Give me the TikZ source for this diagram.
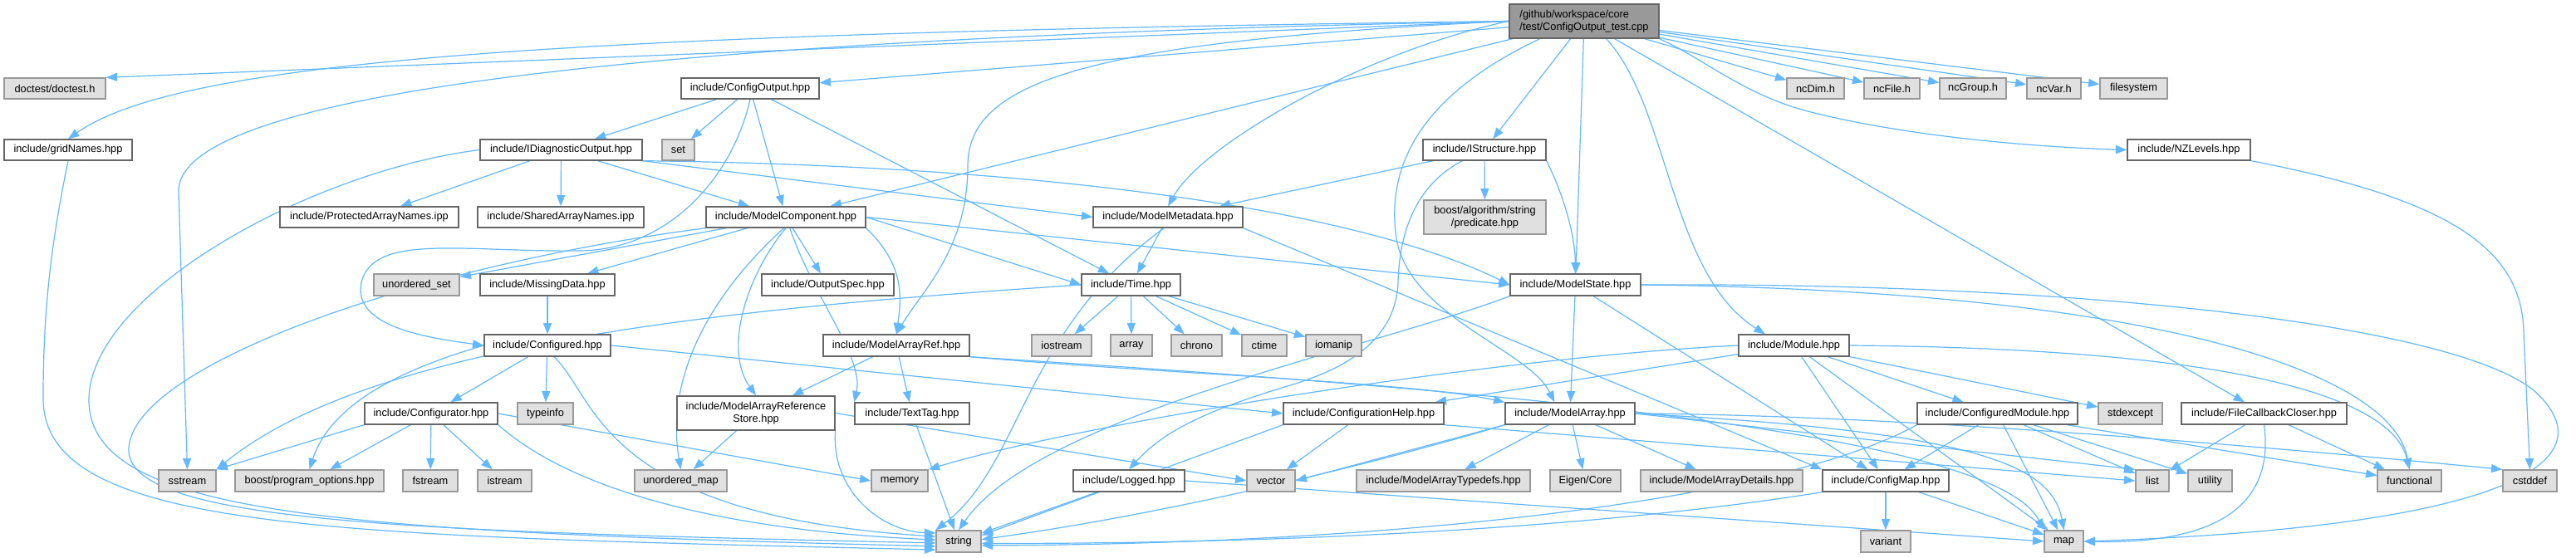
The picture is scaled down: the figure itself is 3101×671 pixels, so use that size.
\documentclass[tikz,border=0pt]{standalone}
\usepackage{fontspec}
\setmainfont{Liberation Sans}
\usetikzlibrary{arrows.meta}
\pgfdeclarelayer{bg}
\pgfsetlayers{bg,main}
\definecolor{edgec}{HTML}{63B8FF}
\definecolor{cdark}{HTML}{666666}
\definecolor{cmid}{HTML}{999999}
\definecolor{clight}{HTML}{E0E0E0}
\newcommand\nd[6]{\node[#1,minimum width={#4*0.75pt},minimum height={#5*0.75pt}] (#2) at (#3) {#6};}
\begin{document}
\begin{tikzpicture}[x=0.75pt,y=-0.75pt,
  base/.style={draw,rectangle,inner sep=0pt,line width=1pt,font=\fontsize{9.6}{11.6}\selectfont},
  wbox/.style={base,draw=cdark,fill=white,align=center},
  gbox/.style={base,draw=cmid,fill=clight,align=center},
  rbox/.style={base,draw=cdark,fill=cmid,align=left},
  edge/.style={draw=edgec,line width=0.9pt,-{Triangle[length=10pt,width=7.5pt]}}]
\useasboundingbox (0,0) rectangle (3101,671);
\begin{pgfonlayer}{bg}
\fill[white] (0,0) rectangle (3101,671);
\end{pgfonlayer}
% row 1
\nd{rbox}{root}{1907,25.5}{180}{41}{/github/workspace/core\\/test/ConfigOutput\_test.cpp}
% row 2
\nd{gbox}{doctest}{66,106.5}{122}{25}{doctest/doctest.h}
\nd{wbox}{co}{903,106.5}{166}{25}{include/ConfigOutput.hpp}
\nd{gbox}{ncdim}{2185.5,106.5}{69}{25}{ncDim.h}
\nd{gbox}{ncfile}{2277.5,106.5}{67}{25}{ncFile.h}
\nd{gbox}{ncgroup}{2375,106.5}{80}{25}{ncGroup.h}
\nd{gbox}{ncvar}{2472.5,106.5}{65}{25}{ncVar.h}
\nd{gbox}{fs}{2568.5,106.5}{81}{25}{filesystem}
% row 3
\nd{wbox}{grid}{82,180.5}{154}{25}{include/gridNames.hpp}
\nd{wbox}{idiag}{675.5,180.5}{195}{25}{include/IDiagnosticOutput.hpp}
\nd{gbox}{set}{816.5,180.5}{39}{25}{set}
\nd{wbox}{istr}{1787,180.5}{148}{25}{include/IStructure.hpp}
\nd{wbox}{nzl}{2635,180.5}{148}{25}{include/NZLevels.hpp}
% row 4
\nd{wbox}{pan}{444.5,261.5}{215}{25}{include/ProtectedArrayNames.ipp}
\nd{wbox}{san}{675,261.5}{200}{25}{include/SharedArrayNames.ipp}
\nd{wbox}{mc}{946,261.5}{192}{25}{include/ModelComponent.hpp}
\nd{wbox}{mm}{1406,261.5}{180}{25}{include/ModelMetadata.hpp}
\nd{gbox}{pred}{1787.5,261.5}{147}{41}{boost/algorithm/string\\/predicate.hpp}
% row 5
\nd{gbox}{uset}{501.5,343}{103}{26}{unordered\_set}
\nd{wbox}{mdata}{659,343}{162}{26}{include/MissingData.hpp}
\nd{wbox}{ospec}{996.5,343}{159}{26}{include/OutputSpec.hpp}
\nd{wbox}{time}{1361.5,343}{119}{26}{include/Time.hpp}
\nd{wbox}{ms}{1896.5,343}{157}{26}{include/ModelState.hpp}
% row 6
\nd{wbox}{cfgd}{659,416}{152}{26}{include/Configured.hpp}
\nd{wbox}{mar}{1079,416}{176}{26}{include/ModelArrayRef.hpp}
\nd{gbox}{iostr}{1278,416}{72}{26}{iostream}
\nd{gbox}{arr}{1362,416}{50}{26}{array}
\nd{gbox}{chrono}{1440.5,416}{61}{26}{chrono}
\nd{gbox}{ctime}{1522,416}{54}{26}{ctime}
\nd{gbox}{iomanip}{1605.5,416}{67}{26}{iomanip}
\nd{wbox}{module}{2159.5,416}{133}{26}{include/Module.hpp}
% row 7
\nd{wbox}{cfgr}{519,498}{160}{26}{include/Configurator.hpp}
\nd{gbox}{typeinfo}{656.5,498}{67}{26}{typeinfo}
\nd{wbox}{mars}{910,497.5}{190}{41}{include/ModelArrayReference\\Store.hpp}
\nd{wbox}{ttag}{1098,498}{138}{26}{include/TextTag.hpp}
\nd{wbox}{chelp}{1641.5,498}{193}{26}{include/ConfigurationHelp.hpp}
\nd{wbox}{ma}{1890,498}{156}{26}{include/ModelArray.hpp}
\nd{wbox}{cmod}{2404.5,498}{193}{26}{include/ConfiguredModule.hpp}
\nd{gbox}{stdexc}{2564.5,498}{77}{26}{stdexcept}
\nd{wbox}{fcc}{2725.5,498}{199}{26}{include/FileCallbackCloser.hpp}
% row 8
\nd{gbox}{sstream}{225.5,579}{69}{26}{sstream}
\nd{gbox}{po}{372.5,579}{179}{26}{boost/program\_options.hpp}
\nd{gbox}{fstream}{518,579}{66}{26}{fstream}
\nd{gbox}{istream}{607.5,579}{65}{26}{istream}
\nd{gbox}{umap}{819.5,579}{111}{26}{unordered\_map}
\nd{gbox}{memory}{1083,579}{68}{26}{memory}
\nd{wbox}{logged}{1359,579}{134}{26}{include/Logged.hpp}
\nd{gbox}{vector}{1530,579}{58}{26}{vector}
\nd{gbox}{matd}{1737.5,579}{209}{26}{include/ModelArrayTypedefs.hpp}
\nd{gbox}{eigen}{1908.5,579}{85}{26}{Eigen/Core}
\nd{gbox}{madet}{2072.5,579}{195}{26}{include/ModelArrayDetails.hpp}
\nd{wbox}{cmap}{2270,579}{152}{26}{include/ConfigMap.hpp}
\nd{gbox}{list}{2591,579}{40}{26}{list}
\nd{gbox}{utility}{2660.5,579}{53}{26}{utility}
\nd{gbox}{functional}{2900.5,579}{77}{26}{functional}
\nd{gbox}{cstddef}{3045.5,579}{65}{26}{cstddef}
% row 9
\nd{gbox}{string}{1154,652}{54}{26}{string}
\nd{gbox}{variant}{2270,652}{60}{26}{variant}
\nd{gbox}{map}{2484.5,652}{47}{26}{map}

\begin{pgfonlayer}{bg}
% root
\draw[edge] (root.west) -- (doctest.north east);
\draw[edge] (root.west) .. controls (700,40) and (220,70) .. (grid.north);
\draw[edge] (root) -- (co);
\draw[edge] (root.west) .. controls (800,45) and (215,110) .. (215,230) -- (sstream.north);
\draw[edge] (root) -- (mc);
\draw[edge] (root.west) .. controls (1300,50) and (1165,100) .. (1165,200) .. controls (1165,300) and (1110,350) .. (mar.north);
\draw[edge] (root.west) .. controls (1650,60) and (1450,170) .. (mm.north);
\draw[edge] (root) -- (istr);
\draw[edge] (root) -- (ms);
\draw[edge] ([xshift=-40pt]root.south) .. controls (1720,110) and (1670,190) .. (1680,280) .. controls (1690,380) and (1840,420) .. ([xshift=-14pt]ma.north);
\draw[edge] ([xshift=20pt]root.south) .. controls (2010,130) and (2010,330) .. ([xshift=-26pt]module.north);
\draw[edge] (root) -- (fcc);
\draw[edge] (root.south east) .. controls (2050,70) and (2100,115) .. (2180,135) .. controls (2300,165) and (2450,177) .. (nzl.west);
\draw[edge] (root) -- (ncdim);
\draw[edge] (root) -- (ncfile);
\draw[edge] (root) -- (ncgroup);
\draw[edge] (root) -- (ncvar);
\draw[edge] (root) -- (fs);
% ConfigOutput
\draw[edge] (co) -- (idiag);
\draw[edge] (co) -- (set);
\draw[edge] (co) -- (mc);
\draw[edge] (co) -- (time);
\draw[edge] (co.south) .. controls (880,220) and (800,300) .. (700,302) .. controls (560,304) and (450,280) .. (435,340) .. controls (425,390) and (500,405) .. (cfgd.west);
% IDiagnosticOutput
\draw[edge] (idiag) -- (pan);
\draw[edge] (idiag) -- (san);
\draw[edge] (idiag) -- (mc);
\draw[edge] (idiag.south east) -- (mm.west);
\draw[edge] (idiag.south east) .. controls (1300,200) and (1650,260) .. (ms.west);
\draw[edge] (idiag.west) .. controls (380,205) and (110,350) .. (107,480) .. controls (105,620) and (400,640) .. (string.192);
% gridNames
\draw[edge] (grid.south) .. controls (60,300) and (52,380) .. (52,480) .. controls (52,640) and (400,645) .. (string.200);
% IStructure
\draw[edge] (istr) -- (mm);
\draw[edge] (istr) -- (pred);
\draw[edge] (istr.south east) .. controls (1880,230) and (1896,280) .. (ms.north);
\draw[edge] ([xshift=-20pt]istr.south) .. controls (1710,220) and (1685,270) .. (1683,340) .. controls (1680,420) and (1600,450) .. (1550,465) .. controls (1450,495) and (1400,520) .. (logged.north);
% NZLevels
\draw[edge] (nzl.south east) .. controls (2950,240) and (3036,300) .. (3038,400) -- (cstddef.north);
% ModelComponent
\draw[edge] (mc) -- (uset);
\draw[edge] (mc) -- (mdata);
\draw[edge] (mc) -- (ospec);
\draw[edge] (mc.east) -- (time.west);
\draw[edge] (mc.east) -- (ms.west);
\draw[edge] (mc.south east) .. controls (1090,320) and (1085,360) .. (mar.north);
\draw[edge] (mc.south) .. controls (900,330) and (870,420) .. (mars.north);
\draw[edge] (mc.260) .. controls (860,350) and (800,450) .. (umap.north);
\draw[edge] (mc.290) .. controls (980,360) and (1040,430) .. (ttag.north west);
\draw[edge] (mc.south west) .. controls (500,320) and (160,440) .. (155,540) .. controls (150,630) and (500,640) .. (string.184);
% ModelMetadata
\draw[edge] (mm) -- (time);
\draw[edge] (mm.250) .. controls (1230,400) and (1230,560) .. (string.north west);
\draw[edge] (mm.south east) -- (cmap.north west);
% Time
\draw[edge] (time) -- (iostr);
\draw[edge] (time) -- (arr);
\draw[edge] (time) -- (chrono);
\draw[edge] (time) -- (ctime);
\draw[edge] (time) -- (iomanip);
\draw[edge] (time.west) .. controls (900,370) and (450,410) .. (sstream.north east);
% ModelState
\draw[edge] (ms) -- (ma);
\draw[edge] (ms) -- (cmap);
\draw[edge] (ms.east) .. controls (2500,340) and (2950,390) .. (3050,470) .. controls (3150,560) and (3000,635) .. (map.east);
\draw[edge] (ms.east) .. controls (2600,350) and (2880,450) .. (functional.north);
\draw[edge] (ms.south west) .. controls (1650,420) and (1250,500) .. (string.north);
% MissingData
\draw[edge] (mdata) -- (cfgd);
% Configured
\draw[edge] (cfgd) -- (cfgr);
\draw[edge] (cfgd) -- (typeinfo);
\draw[edge] (cfgd.300) .. controls (720,480) and (720,620) .. (string.168);
\draw[edge] (cfgd.west) .. controls (500,440) and (400,480) .. (po.north);
\draw[edge] (cfgd.east) -- (chelp.west);
% Configurator
\draw[edge] (cfgr.south west) -- (sstream.north east);
\draw[edge] (cfgr) -- (po);
\draw[edge] (cfgr) -- (fstream);
\draw[edge] (cfgr) -- (istream);
\draw[edge] (cfgr.south east) .. controls (700,600) and (900,640) .. (string.176);
\draw[edge] (cfgr.east) -- (memory.west);
% ModelArrayRef
\draw[edge] (mar) -- (mars);
\draw[edge] (mar) -- (ttag);
\draw[edge] (mar.south east) .. controls (1400,450) and (1700,460) .. (ma.north west);
\draw[edge] (mar.south east) .. controls (1800,470) and (2400,520) .. (map.north west);
% ModelArrayReferenceStore
\draw[edge] (mars) -- (umap);
\draw[edge] (mars.south east) .. controls (1000,590) and (1060,640) .. (string.160);
\draw[edge] (mars.east) -- (vector.west);
% TextTag, Logged
\draw[edge] (ttag) -- (string);
\draw[edge] (logged) -- (string);
\draw[edge] (logged.east) -- (map.west);
% ConfigurationHelp
\draw[edge] (chelp.south west) -- (string.15);
\draw[edge] (chelp) -- (vector);
\draw[edge] (chelp.south east) -- (list.west);
% ModelArray
\draw[edge] (ma) -- (matd);
\draw[edge] (ma) -- (eigen);
\draw[edge] (ma) -- (madet);
\draw[edge] (ma.south west) -- (vector.east);
\draw[edge] (ma.south west) .. controls (1650,560) and (1400,620) .. (string.5);
\draw[edge] (ma.east) .. controls (2380,520) and (2470,560) .. (map.north);
\draw[edge] (ma.east) -- (list.north west);
\draw[edge] (ma.east) .. controls (2300,500) and (2750,540) .. (cstddef.north west);
% ConfiguredModule
\draw[edge] (cmod) -- (cmap);
\draw[edge] (cmod) -- (list);
\draw[edge] (cmod) -- (utility);
\draw[edge] (cmod) -- (functional);
\draw[edge] (cmod) -- (map);
\draw[edge] (cmod.south west) .. controls (2150,600) and (1700,655) .. (string.350);
% Module
\draw[edge] (module) -- (cmod);
\draw[edge] (module) -- (stdexc);
\draw[edge] (module) -- (cmap);
\draw[edge] (module) -- (map);
\draw[edge] (module) -- (chelp);
\draw[edge] (module.east) .. controls (2700,420) and (2880,480) .. (functional.north);
\draw[edge] (module.west) .. controls (1800,430) and (1300,510) .. (memory.north east);
% FileCallbackCloser
\draw[edge] (fcc) -- (list);
\draw[edge] (fcc) -- (functional);
\draw[edge] (fcc.south) .. controls (2740,620) and (2650,655) .. (map.east);
% ConfigMap
\draw[edge] (cmap) -- (variant);
\draw[edge] (cmap) -- (map);
\draw[edge] (cmap.south west) .. controls (1900,640) and (1500,655) .. (string.355);
\end{pgfonlayer}
\end{tikzpicture}
\end{document}
